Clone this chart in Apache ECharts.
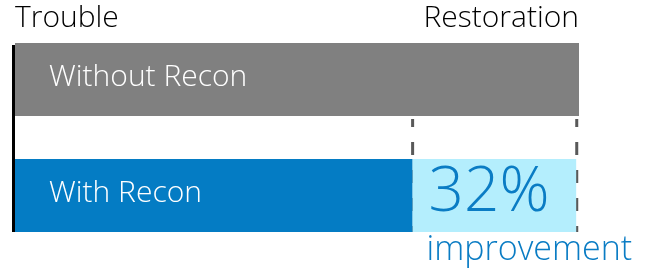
<!DOCTYPE html>
<html>
<head>
<meta charset="utf-8">
<script src="https://cdn.jsdelivr.net/npm/echarts@6/dist/echarts.min.js"></script>
<style>
  html, body { margin: 0; padding: 0; background: #fff; }
  #chart { width: 651px; height: 272px; }
</style>
</head>
<body>
<div id="chart"></div>
<script>
// categories (top to bottom)
const categories = ['Without Recon', 'With Recon'];
// time to restore, percent of the slow case
const baseValues = [100, 70.5];
// the saved part, stacked on the With Recon bar
const savedValues = ['-', 29];
const savedLabel = '32%';
const savedNote = 'improvement';
// where the dashed guides sit
const guideValues = [70.5, 99.6];
// axis end labels
const tickLabels = ['Trouble', 'Restoration'];

const barColors = ['#808080', '#047cc4'];
const font = 'Open Sans';
const weight = 300;

const chart = echarts.init(document.getElementById('chart'), null, { renderer: 'canvas' });

const options = {
  backgroundColor: '#fff',
  animation: false,
  grid: { left: 15, right: 72, top: 21.5, bottom: 18.5 },
  xAxis: {
    type: 'value',
    position: 'top',
    min: 0,
    max: 100,
    interval: 100,
    axisLine: { show: false },
    axisTick: { show: false },
    splitLine: { show: false },
    axisLabel: {
      margin: -12,
      fontFamily: font,
      fontWeight: weight,
      fontSize: 30,
      color: '#000',
      alignMinLabel: 'left',
      alignMaxLabel: 'right',
      formatter: v => (v === 0 ? tickLabels[0] : tickLabels[1])
    }
  },
  yAxis: {
    type: 'category',
    inverse: true,
    data: categories,
    show: false
  },
  series: [
    {
      name: 'base',
      type: 'bar',
      stack: 'total',
      barWidth: 73,
      data: baseValues.map((v, i) => ({ value: v, itemStyle: { color: barColors[i] } })),
      label: {
        show: true,
        position: 'insideLeft',
        distance: 34,
        formatter: '{b}',
        color: '#fff',
        fontFamily: font,
        fontWeight: weight,
        fontSize: 30,
        offset: [0, -2]
      }
    },
    {
      name: 'saved',
      type: 'bar',
      stack: 'total',
      barWidth: 73,
      itemStyle: { color: '#b4eefd' },
      data: savedValues,
      label: {
        show: true,
        position: [14, -1],
        formatter: '{big|' + savedLabel + '}\n{small|' + savedNote + '}',
        rich: {
          big: { fontFamily: font, fontWeight: weight, fontSize: 62, lineHeight: 70, color: '#0a7cc4', padding: [0, 0, 0, 2] },
          small: { fontFamily: font, fontWeight: weight, fontSize: 34, lineHeight: 44, color: '#0a7cc4' }
        }
      }
    },
    {
      // left axis line
      name: 'axis',
      type: 'custom',
      silent: true,
      data: [[0]],
      renderItem: (params, api) => {
        const top = api.coord([0, 0]);
        const bot = api.coord([0, 1]);
        return {
          type: 'line',
          shape: { x1: top[0] - 1.5, y1: top[1] - 34.5, x2: bot[0] - 1.5, y2: bot[1] + 36.5 },
          style: { stroke: '#000', lineWidth: 3 }
        };
      }
    },
    {
      // dashed guides around the saved part
      name: 'guides',
      type: 'custom',
      silent: true,
      data: guideValues.map(v => [v]),
      renderItem: (params, api) => {
        const p = api.coord([api.value(0), 1]);
        return {
          type: 'line',
          shape: { x1: p[0], y1: p[1] - 76.5, x2: p[0], y2: p[1] + 36.5 },
          style: { stroke: '#595959', lineWidth: 3, lineDash: [13, 15], lineDashOffset: 5 }
        };
      }
    }
  ]
};

chart.setOption(options);
</script>
</body>
</html>
